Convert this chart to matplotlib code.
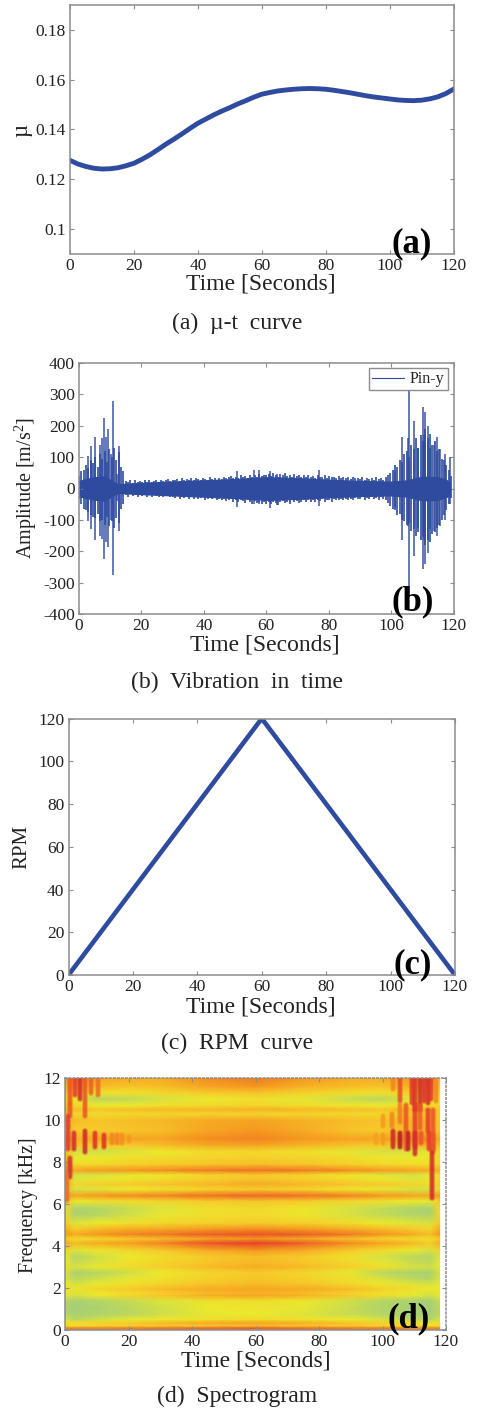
import numpy as np
from matplotlib import pyplot as plt
from matplotlib.colors import LinearSegmentedColormap

W, H = 478, 1408

plt.rcParams['font.family'] = ['Liberation Serif', 'DejaVu Serif']
plt.rcParams['mathtext.fontset'] = 'custom'
plt.rcParams['mathtext.rm'] = 'Liberation Serif'
plt.rcParams['mathtext.default'] = 'rm'
plt.rcParams['axes.unicode_minus'] = False

BLUE = '#2f4b9f'
GRAY = '#8c8c8c'
TEXT = '#222222'

# (a) friction coefficient
mu_t = [0, 2.5, 5, 7.5, 10, 12.5, 15, 17.5, 20, 22.5, 25, 27.5, 30, 32.5, 35, 37.5, 40, 42.5, 45, 47.5, 50, 52.5, 55,
        57.5, 60, 62.5, 65, 67.5, 70, 72.5, 75, 77.5, 80, 82.5, 85, 87.5, 90, 92.5, 95, 97.5, 100, 102.5, 105, 107.5,
        110, 112.5, 115, 117.5, 120]
mu_v = [.1275, .1260, .1250, .1243, .1240, .1241, .1245, .1253, .1263, .1279, .1297, .1318, .1340, .1360, .1381,
        .1403, .1424, .1441, .1458, .1473, .1487, .1502, .1515, .1529, .1541, .1548, .1554, .1558, .1561, .1563,
        .1564, .1563, .1561, .1557, .1552, .1547, .1541, .1535, .1530, .1526, .1522, .1518, .1516, .1515, .1517,
        .1522, .1530, .1543, .1561]

# (b) vibration: dense core
core_t = [0, 2, 5, 8, 10, 12, 13, 20, 30, 40, 50, 60, 70, 80, 90, 100, 105, 110, 115, 118, 119]
core_v = [26, 32, 38, 40, 30, 18, 16, 20, 24, 28, 32, 38, 35, 30, 26, 24, 28, 40, 38, 28, 18]

# (b) vibration: rough fringe, one value every 0.75 s
fringe_up = [40, 55, 60, 75, 65, 90, 80, 100, 70, 110, 95, 120, 85, 125, 100, 130, 90, 115, 70, 55,
             24, 20, 26, 18, 28, 22, 24, 20, 26, 22, 28, 20, 24, 26, 22, 28, 24, 26, 30, 24,
             28, 26, 30, 24, 32, 28, 30, 26, 34, 28, 32, 30, 26, 34, 30, 28, 36, 30, 32, 28,
             34, 30, 38, 32, 36, 40, 34, 38, 32, 42, 36, 40, 34, 44, 38, 42, 36, 46, 40, 44,
             42, 46, 40, 48, 44, 38, 46, 42, 48, 40, 44, 38, 46, 40, 42, 36, 44, 38, 42, 36,
             40, 34, 42, 36, 38, 44, 34, 40, 36, 38, 32, 40, 34, 36, 32, 38, 30, 36, 32, 34,
             30, 36, 28, 34, 30, 32, 28, 36, 30, 34, 28, 38, 42, 50, 60, 75, 70, 90, 85, 110,
             120, 100, 140, 125, 160, 130, 170, 150, 190, 160, 175, 140, 150, 120, 125, 95, 90, 75, 60, 40]
fringe_dn = [35, 50, 65, 70, 75, 85, 90, 95, 80, 105, 100, 115, 90, 120, 105, 125, 95, 110, 65, 50,
             22, 26, 18, 24, 20, 26, 18, 24, 22, 28, 20, 26, 22, 24, 26, 20, 28, 24, 22, 28,
             26, 30, 24, 32, 26, 30, 28, 34, 26, 32, 28, 34, 30, 28, 36, 32, 28, 34, 30, 36,
             32, 38, 34, 40, 36, 32, 42, 38, 44, 36, 40, 46, 38, 42, 48, 40, 46, 42, 48, 44,
             50, 44, 48, 42, 46, 52, 44, 40, 46, 42, 48, 38, 44, 40, 46, 42, 38, 44, 36, 42,
             38, 44, 36, 40, 34, 42, 38, 36, 42, 34, 38, 36, 32, 38, 34, 36, 32, 38, 30, 34,
             32, 28, 36, 30, 34, 26, 32, 30, 36, 28, 34, 36, 46, 55, 65, 70, 85, 80, 100, 105,
             115, 110, 135, 130, 150, 140, 165, 155, 180, 165, 170, 145, 140, 125, 115, 100, 85, 70, 50, 30]

# (b) vibration: tallest spikes
spike_t = [3.0, 4.0, 5.1, 6.6, 7.4, 8.1, 8.7, 9.4, 10.1, 10.9, 12.1, 12.8, 50.7, 56.2, 57.6, 61.2, 63.3, 76.9,
           101.3, 103.4, 105.3, 105.9, 107.2, 108.5, 110.1, 110.6, 111, 111.8, 112.5, 113.6, 114.6, 115.7, 117.2,
           118.8]
spike_up = [105, 135, 165, 140, 160, 225, 165, 190, 110, 278, 45, 135, 55, 58, 58, 55, 47, 58,
            55, 165, 160, 330, 215, 130, 260, 170, 245, 200, 130, 140, 165, 125, 110, 100]
spike_dn = [105, 130, 165, 150, 160, 225, 170, 185, 100, 275, 40, 135, 58, 50, 48, 62, 52, 56,
            60, 165, 120, 345, 215, 125, 255, 165, 240, 205, 130, 135, 150, 120, 100, 50]

# (c) RPM
rpm_t = [0, 60, 120]
rpm_v = [0, 120, 0]

# (d) spectrogram, rows by frequency (kHz), columns by time (s)
spec_t = [0, 3, 10, 20, 30, 45, 60, 75, 90, 100, 110, 115, 118]
spec_f = [0.0, 0.1, 0.2, 0.35, 0.5, 0.75, 1.05, 1.4, 1.65, 1.75, 1.95, 2.2, 2.45, 2.75, 3.0, 3.2, 3.5, 3.8, 4.15,
          4.35, 4.55, 4.8, 5.1, 5.5, 5.8, 6.15, 6.4, 6.7, 6.95, 7.2, 7.4, 7.6, 7.9, 8.2, 8.5, 8.8, 9.1, 9.5,
          10.0, 10.3, 10.5, 10.7, 11.0, 11.3, 11.6, 12.0]
spec_v = [
    [.60, .60, .60, .62, .62, .64, .66, .64, .62, .60, .60, .60, .60],
    [.72, .72, .72, .74, .75, .78, .80, .76, .74, .74, .72, .72, .72],
    [.45, .42, .45, .48, .50, .52, .55, .52, .50, .46, .42, .40, .45],
    [.42, .42, .45, .50, .55, .60, .62, .58, .52, .48, .42, .38, .42],
    [.30, .22, .28, .34, .38, .42, .44, .40, .36, .30, .24, .20, .30],
    [.20, .14, .18, .22, .28, .34, .36, .32, .26, .20, .14, .12, .22],
    [.16, .12, .15, .22, .28, .36, .38, .34, .26, .18, .12, .12, .22],
    [.20, .14, .18, .25, .32, .40, .42, .38, .28, .20, .14, .12, .25],
    [.35, .30, .38, .45, .52, .60, .62, .58, .50, .42, .34, .30, .34],
    [.35, .30, .36, .42, .48, .55, .58, .54, .46, .40, .34, .30, .34],
    [.40, .38, .45, .50, .55, .60, .62, .60, .55, .48, .40, .36, .38],
    [.35, .30, .35, .40, .45, .52, .55, .52, .44, .38, .32, .30, .35],
    [.32, .22, .28, .34, .40, .48, .52, .48, .40, .30, .22, .20, .32],
    [.30, .16, .20, .28, .36, .45, .50, .45, .34, .22, .15, .14, .30],
    [.40, .30, .35, .42, .48, .55, .60, .55, .48, .40, .30, .28, .35],
    [.35, .25, .32, .40, .46, .52, .56, .52, .44, .34, .26, .24, .34],
    [.35, .20, .28, .36, .42, .50, .54, .50, .40, .30, .22, .20, .32],
    [.45, .32, .38, .45, .50, .60, .66, .60, .50, .42, .35, .30, .45],
    [.62, .55, .60, .64, .70, .80, .84, .78, .68, .62, .55, .50, .60],
    [.50, .42, .44, .50, .54, .62, .66, .60, .52, .46, .42, .40, .50],
    [.66, .60, .66, .70, .72, .78, .80, .78, .72, .66, .60, .55, .66],
    [.60, .50, .56, .60, .62, .66, .68, .66, .60, .56, .50, .45, .60],
    [.50, .32, .36, .40, .44, .48, .50, .48, .42, .36, .32, .30, .50],
    [.45, .16, .20, .28, .34, .40, .42, .38, .30, .24, .18, .16, .45],
    [.45, .18, .20, .26, .32, .40, .44, .38, .30, .24, .18, .15, .45],
    [.55, .36, .40, .42, .45, .50, .52, .50, .44, .40, .36, .34, .50],
    [.66, .62, .66, .68, .70, .74, .76, .74, .70, .66, .62, .60, .66],
    [.55, .30, .32, .36, .40, .46, .50, .46, .38, .34, .30, .30, .45],
    [.60, .45, .48, .50, .52, .56, .60, .56, .52, .50, .46, .42, .50],
    [.60, .32, .34, .38, .42, .48, .52, .48, .42, .36, .32, .34, .45],
    [.65, .30, .30, .34, .38, .46, .50, .46, .38, .32, .30, .35, .45],
    [.72, .62, .65, .66, .68, .72, .74, .72, .68, .65, .62, .60, .60],
    [.70, .42, .44, .48, .50, .52, .54, .52, .48, .44, .42, .42, .45],
    [.60, .35, .36, .40, .42, .46, .48, .46, .42, .38, .36, .38, .45],
    [.55, .30, .28, .32, .36, .42, .44, .40, .34, .30, .30, .35, .45],
    [.65, .52, .48, .50, .54, .60, .62, .57, .52, .50, .58, .58, .52],
    [.72, .58, .62, .62, .62, .68, .70, .66, .62, .62, .70, .70, .60],
    [.60, .50, .50, .52, .54, .62, .66, .60, .52, .50, .58, .58, .50],
    [.60, .55, .52, .54, .56, .60, .62, .58, .54, .52, .58, .58, .50],
    [.55, .45, .42, .44, .44, .46, .46, .44, .44, .44, .52, .52, .50],
    [.60, .55, .52, .54, .56, .56, .58, .56, .54, .52, .58, .58, .50],
    [.55, .45, .36, .36, .40, .44, .46, .42, .38, .36, .42, .45, .45],
    [.50, .38, .22, .24, .30, .36, .40, .34, .26, .22, .35, .40, .40],
    [.55, .50, .40, .40, .44, .50, .52, .47, .42, .40, .50, .50, .45],
    [.60, .60, .54, .52, .54, .62, .66, .58, .54, .52, .60, .60, .50],
    [.66, .68, .62, .60, .60, .68, .72, .66, .60, .60, .66, .66, .55],
]

# (d) red bursts at start and end of the run
burst_t = [1.5, 3.2, 4.7, 6.3, 8.2, 10.5, 1.5, 1.0, 6.3, 9.5, 12.3, 14.7, 16.3, 18, 20, 1.0, 2.8, 1.5, 0.6,
           103.4, 105.5, 109.2, 110.2, 111.8, 113, 114.4, 115.3, 117, 105.5, 107.4, 110.2, 111.8, 114.4, 116, 100, 103,
           98, 100, 103.4, 105.5, 108, 110.2, 112, 114.5, 116, 115.6]
burst_lo = [10.8, 11.2, 11, 10.2, 11.3, 11.2, 10.2, 9.6, 8.5, 8.7, 8.7, 8.9, 8.9, 8.9, 9.0, 8.6, 8.6, 7.3, 6.2,
            11.5, 10.9, 10.8, 10.5, 10.5, 10.9, 10.8, 11, 10.9, 9.9, 8.6, 8.7, 9.6, 9.5, 8.6, 9.7, 9.7,
            8.9, 8.9, 8.7, 8.7, 8.6, 8.4, 8.9, 8.6, 8.5, 6.3]
burst_hi = [12, 12, 12, 12, 12, 12, 10.7, 10.2, 9.5, 9.4, 9.3, 9.3, 9.3, 9.3, 9.2, 9.5, 9.4, 8.2, 7.5,
            12, 12, 12, 12, 12, 12, 12, 12, 12, 10.7, 10.7, 10.7, 10.7, 10.5, 10.5, 10.2, 10.3,
            9.3, 9.3, 9.5, 9.4, 9.4, 9.4, 9.4, 9.4, 9.3, 8.5]
burst_level = [.8, .85, .9, .8, .78, .75, .8, .85, .92, .88, .88, .7, .7, .68, .66, .85, .9, .88, .75,
               .7, .82, .86, .88, .9, .88, .9, .86, .7, .72, .8, .85, .78, .85, .8, .66, .7,
               .64, .66, .92, .98, .95, .9, .8, .85, .8, .9]

xticks = [0, 20, 40, 60, 80, 100, 120]
spec_cmap = LinearSegmentedColormap.from_list(
    'spec', [(0, '#93c98c'), (.2, '#b5d565'), (.36, '#ece92c'), (.5, '#f7cb2a'), (.66, '#f5981f'),
             (.86, '#e5372a'), (1, '#a5132a')])


def make_axes(fig, left, right, top, bottom):
    ax = fig.add_axes([left / W, 1 - bottom / H, (right - left) / W, (bottom - top) / H])
    ax.tick_params(direction='in', top=True, right=True, length=3, width=0.8, color=GRAY,
                   labelsize=12.5, labelcolor=TEXT, pad=3)
    for side in ax.spines.values():
        side.set_color(GRAY)
        side.set_linewidth(1.1)
    ax.set_xlim(0, 120)
    ax.set_xticks(xticks)
    return ax


def labels(fig, xlab_x, xlab_y, ylab_x, ylab_y, ylab, ylab_size, tag, tag_x, tag_y, caption, cap_x, cap_y):
    fig.text(xlab_x / W, 1 - xlab_y / H, 'Time [Seconds]', fontsize=17, color=TEXT, ha='center', va='center')
    fig.text(ylab_x / W, 1 - ylab_y / H, ylab, fontsize=ylab_size, color=TEXT, ha='center', va='center', rotation=90)
    fig.text(tag_x / W, 1 - tag_y / H, tag, fontsize=25, fontweight='bold', color='black', ha='center', va='center')
    fig.text(cap_x / W, 1 - cap_y / H, caption, fontsize=17, color=TEXT, ha='center', va='center')


def main():
    fig = plt.figure(figsize=(W / 100, H / 100), dpi=100)

    ax = make_axes(fig, 70, 453.5, 5, 253.5)
    ax.plot(mu_t, mu_v, color=BLUE, lw=3.5, solid_joinstyle='round')
    ax.set_ylim(0.09, 0.19)
    ax.set_yticks([0.1, 0.12, 0.14, 0.16, 0.18])
    ax.set_yticklabels(['0.1', '0.12', '0.14', '0.16', '0.18'])
    labels(fig, 261, 284, 22, 130, 'µ', 16.5, '(a)', 412, 244, '(a)  µ-t  curve', 237, 323)

    ax = make_axes(fig, 79, 453.5, 363, 614)
    fringe_t = np.arange(len(fringe_up)) * 0.75
    ax.fill_between(core_t, -np.array(core_v), core_v, color=BLUE, lw=0)
    ax.vlines(fringe_t, -np.array(fringe_dn), fringe_up, color=BLUE, lw=1.4, alpha=0.85)
    ax.vlines(spike_t, -np.array(spike_dn), spike_up, color=BLUE, lw=1.1, alpha=0.95)
    ax.plot([], [], color=BLUE, lw=0.8, label='Pin-y')
    ax.set_ylim(-400, 400)
    ax.set_yticks(np.arange(-400, 401, 100))
    ax.legend(loc='upper right', bbox_to_anchor=(0.985, 0.98), borderaxespad=0, fancybox=False, framealpha=1,
              edgecolor=GRAY, fontsize=11.5, labelcolor=TEXT, handlelength=2.0, borderpad=0.2, handletextpad=0.4)
    labels(fig, 265, 645, 26, 488, 'Amplitude [m/s$^{2}$]', 14.5, '(b)', 413, 602, '(b)  Vibration  in  time', 237, 682)

    ax = make_axes(fig, 68.5, 455, 718.5, 975)
    ax.plot(rpm_t, rpm_v, color=BLUE, lw=3.3, solid_joinstyle='miter', clip_on=True)
    ax.set_ylim(0, 120)
    ax.set_yticks(np.arange(0, 121, 20))
    labels(fig, 261, 1007, 22, 847, 'RPM', 15, '(c)', 413, 965, '(c)  RPM  curve', 237, 1043)

    ax = make_axes(fig, 65, 446, 1078, 1330)
    ax.pcolormesh(spec_t, spec_f, np.array(spec_v), cmap=spec_cmap, vmin=0, vmax=1, shading='gouraud')
    burst_colors = spec_cmap(burst_level)
    ax.vlines(burst_t, burst_lo, burst_hi, colors=burst_colors, lw=4.4, alpha=0.35, capstyle='round')
    ax.vlines(burst_t, burst_lo, burst_hi, colors=burst_colors, lw=2.6, alpha=0.8, capstyle='round')
    ax.set_ylim(0, 12)
    ax.set_yticks(np.arange(0, 13, 2))
    ax.spines['top'].set_linestyle(':')
    ax.spines['right'].set_linestyle(':')
    labels(fig, 256, 1361, 28, 1205, 'Frequency [kHz]', 14.3, '(d)', 409, 1319, '(d)  Spectrogram', 237, 1396)

    plt.savefig('out.png', dpi=100)


if __name__ == '__main__':
    main()
